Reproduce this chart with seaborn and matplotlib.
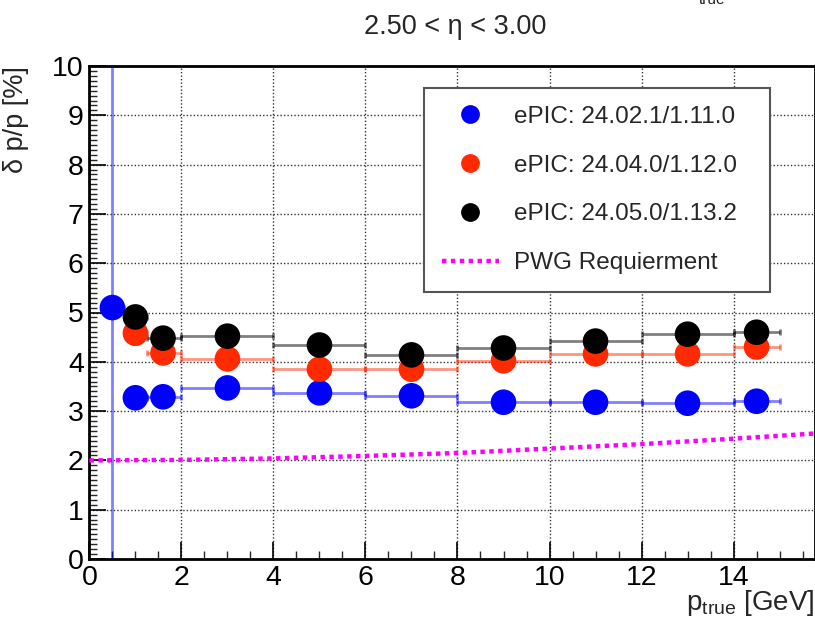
import matplotlib
matplotlib.use("Agg")
import matplotlib.pyplot as plt
import seaborn as sns
import numpy as np
import pandas as pd
from matplotlib.lines import Line2D
from matplotlib.ticker import MultipleLocator

# ---------------- data ----------------
releases = ["ePIC: 24.02.1/1.11.0", "ePIC: 24.04.0/1.12.0", "ePIC: 24.05.0/1.13.2"]
colors = ["#0000ff", "#ff2a00", "#000000"]

p_blue = [0.5, 1.0, 1.6, 3.0, 5.0, 7.0, 9.0, 11.0, 13.0, 14.5]
xlo_blue = [0.25, 0.75, 1.25, 2.0, 4.0, 6.0, 8.0, 10.0, 12.0, 14.0]
xhi_blue = [0.75, 1.25, 2.0, 4.0, 6.0, 8.0, 10.0, 12.0, 14.0, 15.0]
res_blue = [5.10, 3.27, 3.29, 3.47, 3.37, 3.31, 3.18, 3.18, 3.16, 3.20]
err_blue = [5.6, 0.06, 0.04, 0.03, 0.03, 0.03, 0.03, 0.03, 0.03, 0.03]

p_other = [1.0, 1.6, 3.0, 5.0, 7.0, 9.0, 11.0, 13.0, 14.5]
xlo_other = [0.75, 1.25, 2.0, 4.0, 6.0, 8.0, 10.0, 12.0, 14.0]
xhi_other = [1.25, 2.0, 4.0, 6.0, 8.0, 10.0, 12.0, 14.0, 15.0]
res_red = [4.58, 4.18, 4.06, 3.85, 3.85, 4.02, 4.16, 4.16, 4.30]
err_red = [0.22, 0.05, 0.03, 0.03, 0.03, 0.03, 0.03, 0.03, 0.03]
res_black = [4.91, 4.48, 4.52, 4.34, 4.14, 4.28, 4.42, 4.56, 4.60]
err_black = [0.06, 0.04, 0.03, 0.03, 0.03, 0.03, 0.03, 0.03, 0.03]

p_req = [0, 2, 4, 6, 8, 10, 12, 14, 16]
res_req = [2.00, 2.01, 2.04, 2.09, 2.15, 2.24, 2.33, 2.44, 2.56]

title = "2.50 < η < 3.00"
xlabel = r"p$_{\mathrm{true}}$ [GeV]"
ylabel = "δ p/p [%]"
req_label = "PWG Requierment"

# ---------------- style ----------------
sns.set_theme(style="white")
plt.rcParams["font.family"] = ["Liberation Sans", "DejaVu Sans"]
plt.rcParams["mathtext.fontset"] = "custom"
plt.rcParams["mathtext.rm"] = "Liberation Sans"
plt.rcParams["mathtext.it"] = "Liberation Sans:italic"

fig = plt.figure(figsize=(8.15, 6.19), dpi=100)
ax = fig.add_axes([89.4 / 815, 60 / 619, (815 - 89.4) / 815, 493 / 619])

frames = []
for name, p, lo, hi, r, e in [
    (releases[0], p_blue, xlo_blue, xhi_blue, res_blue, err_blue),
    (releases[1], p_other, xlo_other, xhi_other, res_red, err_red),
    (releases[2], p_other, xlo_other, xhi_other, res_black, err_black),
]:
    frames.append(pd.DataFrame({"release": name, "p": p, "lo": lo, "hi": hi, "res": r, "err": e}))
df = pd.concat(frames, ignore_index=True)
req = pd.DataFrame({"p": p_req, "res": res_req})

# grid
ax.set_axisbelow(True)
ax.grid(True, which="major", color="#333333", linestyle=(0, (1, 1.5)), linewidth=1.0)

# requirement line
sns.lineplot(data=req, x="p", y="res", ax=ax, color="#ff00ff", linewidth=3.2,
             linestyle=(0, (1, 1)), zorder=3, legend=False)

# error bars
for name, c in zip(releases, colors):
    d = df[df.release == name]
    ax.errorbar(d.p, d.res, xerr=[d.p - d.lo, d.hi - d.p], yerr=d.err, fmt="none",
                ecolor=c, alpha=0.5, elinewidth=2, capsize=2, capthick=2, zorder=4)

sns.scatterplot(data=df, x="p", y="res", hue="release", palette=dict(zip(releases, colors)),
                s=340, edgecolor="none", ax=ax, zorder=5, legend=False)

ax.set_xlim(0, 15.77)
ax.set_ylim(0, 10)
ax.xaxis.set_major_locator(MultipleLocator(2))
ax.xaxis.set_minor_locator(MultipleLocator(0.5))
ax.yaxis.set_major_locator(MultipleLocator(1))
ax.yaxis.set_minor_locator(MultipleLocator(0.1))
ax.tick_params(which="major", direction="in", length=12, width=1.2, labelsize=20.5,
               bottom=True, left=True, top=False, right=False, colors="black", pad=4)
ax.tick_params(which="minor", direction="in", length=6, width=1.0,
               bottom=True, left=True, top=False, right=False)
for s in ax.spines.values():
    s.set_color("black")
    s.set_linewidth(2)

ax.set_xlabel(xlabel, fontsize=20, loc="right", labelpad=-1.5)
ax.set_ylabel(ylabel, fontsize=19.5, loc="top", labelpad=17)

fig.text(455 / 815, 1 - 27 / 619, title, fontsize=19.5, ha="center", va="center")
fig.text(712 / 815, 1.0, "true", fontsize=11, ha="center", va="center", color="#222222")

handles = [Line2D([], [], marker="o", linestyle="none", color=c, markersize=12.5) for c in colors]
handles.append(Line2D([], [], color="#ff00ff", linestyle=(0, (1, 1)), linewidth=3.2))
x0 = (424 - 89.4) / 725.6
x1 = (770 - 89.4) / 725.6
ytop = (559 - 88) / 493
leg = ax.legend(handles, releases + [req_label], loc="upper left", mode="expand",
                bbox_to_anchor=(x0, ytop - 0.4, x1 - x0, 0.4),
                fontsize=17.5, frameon=True, fancybox=False, framealpha=1,
                edgecolor="#555555", borderaxespad=0, borderpad=0.72,
                labelspacing=1.11, handlelength=2.35, handletextpad=0.65)
leg.get_frame().set_linewidth(1.5)
leg.set_zorder(10)

fig.savefig("out.png", dpi=100)
